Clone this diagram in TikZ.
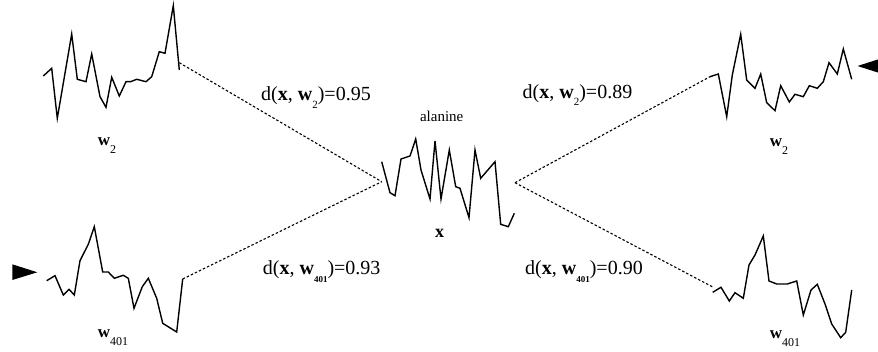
\documentclass[tikz,border=0pt]{standalone}
\usepackage{fontspec}
\setmainfont{Liberation Serif}
\usepackage{tikz}
\usetikzlibrary{positioning}

\newcommand{\wsub}[2]{\textbf{w}\raisebox{-7.5pt}{\fontsize{#2}{#2}\selectfont #1}}

\begin{document}
\begin{tikzpicture}[x=1pt, y=-1pt,
    series/.style={line width=1.4pt, line join=miter},
    link/.style={line width=1.1pt, dash pattern=on 2.5pt off 2pt},
    lbl/.style={inner sep=0pt, anchor=base, font=\fontsize{20}{24}\selectfont}]
    \useasboundingbox (0,0) rectangle (878,352);
    % left pair
    \draw[series] (43.3,76) -- (51.7,68.3) -- (57.3,118.3) -- (71.7,34) -- (77.3,79.3) -- (86,81.7) -- (91.7,54) -- (100,96.7) -- (106,107.3) -- (111.7,77.3) -- (119.3,96) -- (126,81.7) -- (130.7,81.7) -- (136.7,79.3) -- (146,81.7) -- (151.7,76.7) -- (159.3,51.7) -- (165,53.3) -- (173.3,5.7) -- (179.3,70);
    \coordinate (lw2) at (179.3,62.7);
    \draw[series] (46.7,280.7) -- (55,275.7) -- (63.3,295) -- (69,289.3) -- (74.3,295) -- (80,260.7) -- (88.3,244.3) -- (94.3,226.7) -- (102.7,272) -- (108.3,272) -- (114.3,278.3) -- (123.3,275.3) -- (128.3,278.3) -- (134,308.3) -- (142.3,286.7) -- (148.3,278.3) -- (156.7,298.3) -- (162.7,323.3) -- (176.7,332) -- (182.7,279);
    \coordinate (lw401) at (182.7,279);
    \fill (12.3,264.3) -- (37.3,272.3) -- (12.3,280) -- cycle;
    \node[lbl, font=\fontsize{17}{20}\selectfont] (lw2lab) at (107,146) {\wsub{2}{12}};
    \node[lbl, font=\fontsize{17}{20}\selectfont] (lw401lab) at (113,338) {\wsub{401}{12}};
    % alanine
    \draw[series] (381.7,161.7) -- (390,192.7) -- (395,195.7) -- (401,159) -- (410,156) -- (415.7,139) -- (421,170) -- (430,199) -- (435,141) -- (441,199) -- (449.3,150) -- (455.7,186.7) -- (460,188.3) -- (469,217.7) -- (475,150) -- (480.7,178.3) -- (495,161.7) -- (500.7,224.3) -- (508.3,226.7) -- (514.3,213.3);
    \coordinate (xin) at (381.7,181.7);
    \coordinate (xout) at (515,182.7);
    \node[lbl, font=\fontsize{15}{18}\selectfont] (alan) at (441.7,122) {alanine};
    \node[lbl, font=\fontsize{18}{20}\selectfont\bfseries] (xlab) at (439.7,237.3) {x};
    % right pair
    \draw[series] (710,76.7) -- (718.3,74) -- (726.7,116.7) -- (732.3,75) -- (740.7,34.3) -- (746.7,80) -- (755,88.3) -- (760.7,74) -- (766.7,102.7) -- (775,110.7) -- (780.7,85.7) -- (789.3,102) -- (795,94.3) -- (803.3,96.7) -- (809.3,85.7) -- (817.3,88.3) -- (823.3,81.7) -- (829,62.7) -- (837.3,74) -- (843.3,49) -- (851.7,79.3);
    \coordinate (rw2) at (710,76.7);
    \draw[series] (712.7,292.3) -- (721,287.3) -- (729.3,301) -- (735,292.7) -- (743.3,298.3) -- (749,265) -- (755,255) -- (763.3,236) -- (769,281) -- (776.7,284) -- (787.3,284) -- (796.7,281) -- (803.3,315) -- (811,290) -- (817.3,284.3) -- (825,304) -- (831.7,324) -- (840.7,337.7) -- (845.7,332.3) -- (851.7,290);
    \coordinate (rw401) at (713.3,287.3);
    \fill (882.5,58) -- (857.5,66) -- (882.5,74) -- cycle;
    \node[lbl, font=\fontsize{17}{20}\selectfont] (rw2lab) at (779,147) {\wsub{2}{12}};
    \node[lbl, font=\fontsize{17}{20}\selectfont] (rw401lab) at (785,339) {\wsub{401}{12}};
    % distances
    \draw[link] (lw2) -- (xin);
    \draw[link] (lw401) -- (xin);
    \draw[link] (xout) -- (rw2);
    \draw[link] (xout) -- (rw401);
    \node[lbl] (dlw2) at (316,100.7) {d(\textbf{x}, \wsub{2}{11})=0.95};
    \node[lbl] (dlw401) at (321.7,275) {d(\textbf{x}, \wsub{\textbf{401}}{9})=0.93};
    \node[lbl] (drw2) at (577.5,98.3) {d(\textbf{x}, \wsub{2}{11})=0.89};
    \node[lbl] (drw401) at (584,275) {d(\textbf{x}, \wsub{\textbf{401}}{9})=0.90};
\end{tikzpicture}
\end{document}
